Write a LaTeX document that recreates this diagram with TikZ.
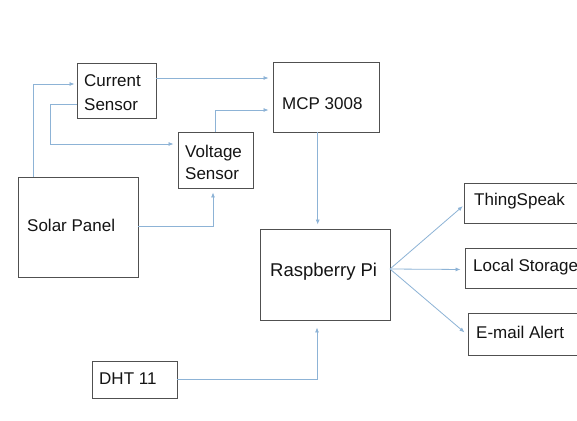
\documentclass[tikz,border=0pt]{standalone}
\usepackage{fontspec}
\setmainfont{Liberation Sans}
\usetikzlibrary{arrows.meta}
\definecolor{conn}{HTML}{8DB3D6}
\definecolor{boxline}{HTML}{505050}
\tikzset{
  box/.style={draw=boxline, line width=0.9pt, rectangle, inner sep=0pt},
  lbl/.style={anchor=base west, inner sep=0pt, font=\fontsize{17}{20}\selectfont, text=black!92},
  wire/.style={draw=conn, line width=0.8pt},
  arr/.style={wire, -{Latex[length=5pt,width=4pt]}, shorten >=#1},
  arr/.default=4pt
}
\begin{document}
\begin{tikzpicture}[x=1pt,y=-1pt]
\useasboundingbox (0,0) rectangle (577,420);
\clip (0,0) rectangle (577,420);
\fill[white] (0,0) rectangle (577,420);
% boxes
\node[box, minimum width=79pt, minimum height=55pt] (cur) at (116.5,90.5) {};
\node[box, minimum width=75pt, minimum height=56pt] (volt) at (215.5,160) {};
\node[box, minimum width=120pt, minimum height=100pt] (solar) at (78,227) {};
\node[box, minimum width=106pt, minimum height=70pt] (mcp) at (326,97) {};
\node[box, minimum width=130pt, minimum height=91pt] (rpi) at (325,274.5) {};
\node[box, minimum width=136pt, minimum height=40pt] (thing) at (532,203) {};
\node[box, minimum width=135pt, minimum height=40pt] (local) at (532.5,268) {};
\node[box, minimum width=132pt, minimum height=42pt] (email) at (534,334) {};
\node[box, minimum width=85pt, minimum height=37pt] (dht) at (134.5,379.5) {};
% texts
\node[lbl] (curT1) at (84,86.5) {Current};
\node[lbl] (curT2) at (84,110) {Sensor};
\node[lbl] (voltT1) at (185,157) {Voltage};
\node[lbl] (voltT2) at (185,179) {Sensor};
\node[lbl] (solarT) at (27,231.5) {Solar Panel};
\node[lbl] (mcpT) at (282,109) {MCP 3008};
\node[lbl, font=\fontsize{18.5}{20}\selectfont] (rpiT) at (270,276) {Raspberry Pi};
\node[lbl] (thingT) at (474,205) {ThingSpeak};
\node[lbl] (localT) at (473,271.5) {Local Storage};
\node[lbl] (emailT) at (476,338.5) {E-mail Alert};
\node[lbl] (dhtT) at (99,384) {DHT 11};
% connectors
\coordinate (hub) at (390,269);
\draw[arr=2pt] (33,0 |- solar.north) |- (cur.west |- 0,84);
\draw[arr] (cur.west |- 0,104.3) -| (50.7,144) -- (volt.west |- 0,144);
\draw[arr] (cur.east |- 0,78) -- (mcp.west |- 0,78);
\draw[arr] (215,0 |- volt.north) |- (mcp.west |- 0,110);
\draw[arr] (solar.east |- 0,226.7) -| (213,0 |- volt.south);
\draw[arr] (317.7,0 |- mcp.south) -- (317.7,0 |- rpi.north);
\draw[arr=1pt] (hub) -- (thing.west |- 0,205.5);
\draw[arr] (hub) -- (local.west |- 0,269.5);
\draw[arr] (hub) -- (email.west |- 0,335);
\draw[arr=7pt] (dht.east |- 0,379) -| (317,0 |- rpi.south);
\end{tikzpicture}
\end{document}
